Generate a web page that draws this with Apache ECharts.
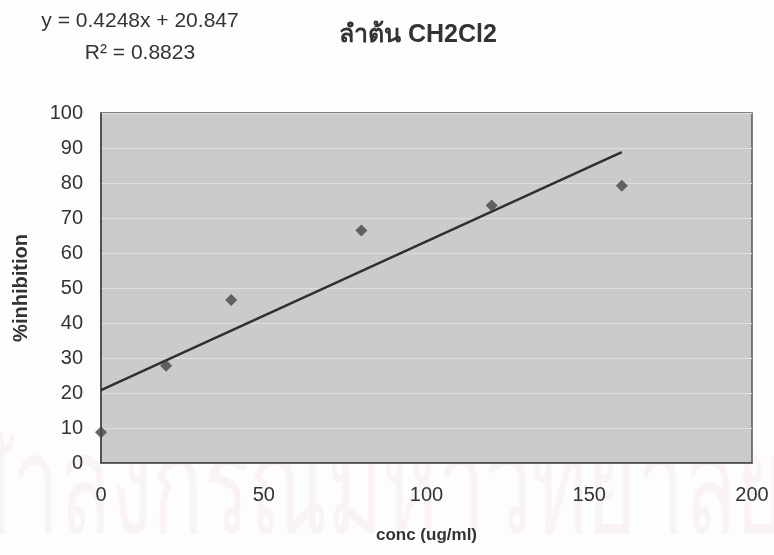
<!DOCTYPE html>
<html>
<head>
<meta charset="utf-8">
<script src="https://cdn.jsdelivr.net/npm/echarts@6/dist/echarts.min.js"></script>
<style>
  html, body { margin: 0; padding: 0; background: #ffffff; }
  #chart { width: 774px; height: 555px; }
</style>
</head>
<body>
<div id="chart"></div>
<script>
// Measured inhibition at each extract concentration
const conc = [0, 20, 40, 80, 120, 160];
const inhibition = [8.8, 27.8, 46.6, 66.4, 73.6, 79.2];

// Linear fit reported on the chart
const slope = 0.4248;
const intercept = 20.847;
const rSquared = 0.8823;
const fitRange = [0, 160];

const chartTitle = 'ลำต้น CH2Cl2';
const xName = 'conc (ug/ml)';
const yName = '%inhibition';
const pageMark = 'จุฬาลงกรณ์มหาวิทยาลัย';

const FONT = '"Liberation Sans", Arial, sans-serif';
const TEXT = '#333333';

const points = conc.map((x, i) => [x, inhibition[i]]);
const fitLine = fitRange.map(x => [x, slope * x + intercept]);

// Stretch the faint page mark so it spans the page width
const markFont = '120px "Noto Sans CJK SC", sans-serif';
const ctx = document.createElement('canvas').getContext('2d');
ctx.font = markFont;
const markScale = 880 / ctx.measureText(pageMark).width;

const chart = echarts.init(document.getElementById('chart'), null, { renderer: 'canvas' });

chart.setOption({
  backgroundColor: '#fdfdfd',
  animation: false,
  textStyle: { fontFamily: FONT, color: TEXT },
  grid: {
    left: 101, right: 22, top: 113, bottom: 92,
    show: true,
    backgroundColor: '#cbcbcb',
    borderColor: '#555555',
    borderWidth: 1.5
  },
  graphic: [
    {
      type: 'text', x: -95, y: 412, z: -10, silent: true,
      scaleX: markScale, scaleY: 1.15,
      style: { text: pageMark, font: markFont, fill: '#faf3f6' }
    },
    {
      type: 'text', x: 140, y: 5,
      style: {
        text: 'y = ' + slope + 'x + ' + intercept + '\nR² = ' + rSquared,
        font: '21px ' + FONT, fill: TEXT, align: 'center', lineHeight: 32
      }
    },
    {
      type: 'text', x: 418, y: 35,
      style: {
        text: chartTitle, font: 'bold 25px ' + FONT, fill: TEXT,
        align: 'center', verticalAlign: 'middle'
      }
    }
  ],
  xAxis: {
    type: 'value', min: 0, max: 200, interval: 50,
    name: xName, nameLocation: 'middle', nameGap: 64,
    nameTextStyle: { fontFamily: FONT, fontSize: 17, fontWeight: 'bold', color: TEXT },
    axisLine: { show: true, onZero: false, lineStyle: { color: '#444444', width: 1.5 } },
    axisTick: { show: false },
    axisLabel: { margin: 22, fontFamily: FONT, fontSize: 20, color: TEXT },
    splitLine: { show: false }
  },
  yAxis: {
    type: 'value', min: 0, max: 100, interval: 10,
    name: yName, nameLocation: 'middle', nameGap: 70, nameRotate: 90,
    nameTextStyle: { fontFamily: FONT, fontSize: 20, fontWeight: 'bold', color: TEXT },
    axisLine: { show: true, lineStyle: { color: '#444444', width: 1.5 } },
    axisTick: { show: false },
    axisLabel: { margin: 18, fontFamily: FONT, fontSize: 20, color: TEXT },
    splitLine: { show: true, lineStyle: { color: '#dedede', width: 1.2 } }
  },
  series: [
    {
      type: 'line', data: fitLine, showSymbol: false, symbol: 'none',
      lineStyle: { color: '#2f2f2f', width: 2.5 }, z: 3
    },
    {
      type: 'scatter', data: points, symbol: 'diamond', symbolSize: 12,
      itemStyle: { color: '#454545' }, z: 4
    }
  ]
});
</script>
</body>
</html>
